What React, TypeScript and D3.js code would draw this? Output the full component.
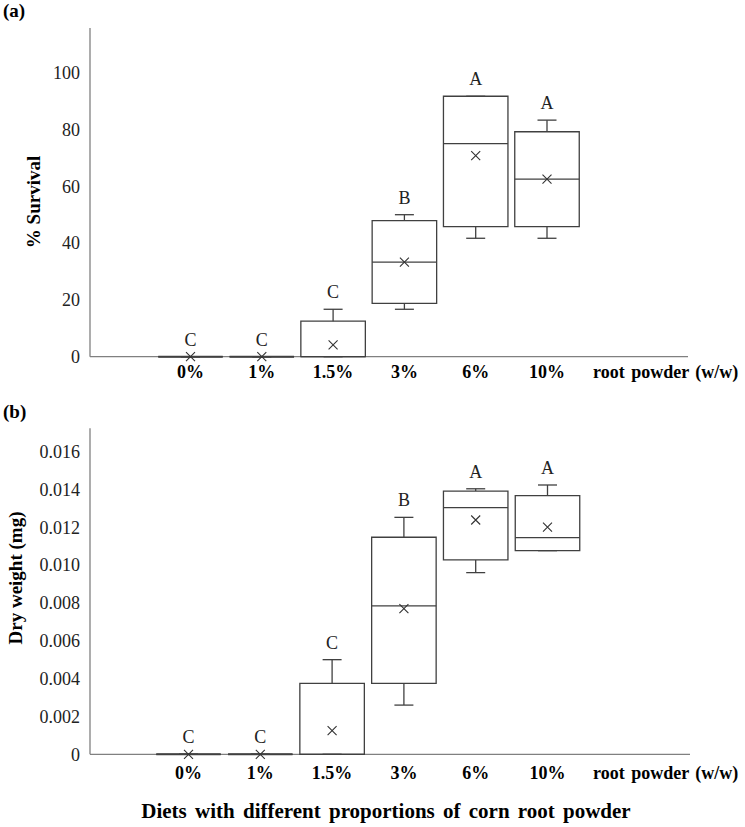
import React from "react";
import * as d3 from "d3";

const categories = ["0%", "1%", "1.5%", "3%", "6%", "10%"];

const survivalMin = [0, 0, 0, 16.7, 41.7, 41.7];
const survivalQ1 = [0, 0, 0, 18.8, 45.8, 45.8];
const survivalMedian = [0, 0, 0, 33.3, 75, 62.5];
const survivalQ3 = [0, 0, 12.5, 47.9, 91.7, 79.2];
const survivalMax = [0, 0, 16.7, 50, 91.7, 83.3];
const survivalMean = [0, 0, 4.2, 33.3, 70.8, 62.5];
const survivalLetters = ["C", "C", "C", "B", "A", "A"];
const survivalTicks = [0, 20, 40, 60, 80, 100];

const weightMin = [0, 0, 0, 0.0026, 0.0096, 0.01076];
const weightQ1 = [0, 0, 0, 0.00375, 0.01027, 0.01076];
const weightMedian = [0, 0, 0, 0.00784, 0.01303, 0.01145];
const weightQ3 = [0, 0, 0.00375, 0.01147, 0.01391, 0.01367];
const weightMax = [0, 0, 0.005, 0.01252, 0.01403, 0.01423];
const weightMean = [0, 0, 0.00125, 0.0077, 0.01238, 0.012];
const weightLetters = ["C", "C", "C", "B", "A", "A"];
const weightTicks = [0, 0.002, 0.004, 0.006, 0.008, 0.01, 0.012, 0.014, 0.016];

const FONT = "'Liberation Serif', 'Times New Roman', serif";
const BOX = "#404040";
const AXIS = "#808080";

type PanelProps = {
  label: string;
  yLabel: string;
  yLabelX: number;
  yLabelY: number;
  y: d3.ScaleLinear<number, number>;
  x: d3.ScalePoint<string>;
  ticks: number[];
  fmt: (v: number) => string;
  mins: number[];
  q1: number[];
  med: number[];
  q3: number[];
  maxs: number[];
  means: number[];
  letters: string[];
  axisTop: number;
  axisRight: number;
  labelTop: number;
  catBaseline: number;
};

function Panel(p: PanelProps) {
  const y0 = p.y(0);
  const bw = 64.5;
  const cap = 19;
  return (
    <g>
      <text x={3} y={p.labelTop} fontFamily={FONT} fontWeight="bold" fontSize={19}>
        {p.label}
      </text>
      <line x1={90} x2={90} y1={p.axisTop} y2={y0} stroke={AXIS} strokeWidth={1.3} />
      <line x1={90} x2={p.axisRight} y1={y0} y2={y0} stroke={AXIS} strokeWidth={1.3} />
      {p.ticks.map((t) => (
        <text key={t} x={80} y={p.y(t)} dy="0.35em" textAnchor="end" fontFamily={FONT} fontSize={18} fill="#222">
          {p.fmt(t)}
        </text>
      ))}
      <text
        transform={`translate(${p.yLabelX},${p.yLabelY}) rotate(-90)`}
        textAnchor="middle"
        dy="0.35em"
        fontFamily={FONT}
        fontWeight="bold"
        fontSize={19}
      >
        {p.yLabel}
      </text>
      {categories.map((c, i) => {
        const cx = p.x(c) as number;
        const l = cx - bw / 2;
        const r = cx + bw / 2;
        const yq1 = p.y(p.q1[i]);
        const yq3 = p.y(p.q3[i]);
        const ymin = p.y(p.mins[i]);
        const ymax = p.y(p.maxs[i]);
        const ymed = p.y(p.med[i]);
        const ymean = p.y(p.means[i]);
        const boxPath = `M${l},${yq3}L${r},${yq3}L${r},${yq1}L${l},${yq1}Z`;
        const m = 4.5;
        return (
          <g key={c}>
            <line x1={cx} x2={cx} y1={ymax} y2={yq3} stroke={BOX} strokeWidth={1.3} />
            <line x1={cx - cap / 2} x2={cx + cap / 2} y1={ymax} y2={ymax} stroke={BOX} strokeWidth={1.3} />
            <line x1={cx} x2={cx} y1={ymin} y2={yq1} stroke={BOX} strokeWidth={1.3} />
            <line x1={cx - cap / 2} x2={cx + cap / 2} y1={ymin} y2={ymin} stroke={BOX} strokeWidth={1.3} />
            <path d={boxPath} fill="none" stroke={BOX} strokeWidth={p.q3[i] === p.q1[i] ? 2 : 1.3} />
            <line x1={l} x2={r} y1={ymed} y2={ymed} stroke={BOX} strokeWidth={1.3} />
            <path
              d={`M${cx - m},${ymean - m}L${cx + m},${ymean + m}M${cx - m},${ymean + m}L${cx + m},${ymean - m}`}
              stroke="#333"
              strokeWidth={1.1}
            />
            <text x={cx} y={ymax - 11} textAnchor="middle" fontFamily={FONT} fontSize={18} fill="#222">
              {p.letters[i]}
            </text>
            <text x={cx} y={p.catBaseline} textAnchor="middle" fontFamily={FONT} fontWeight="bold" fontSize={18}>
              {c}
            </text>
          </g>
        );
      })}
      <text x={593} y={p.catBaseline} fontFamily={FONT} fontWeight="bold" fontSize={18} wordSpacing={2}>
        root powder (w/w)
      </text>
    </g>
  );
}

export default function App() {
  const xTop = d3.scalePoint<string>().domain(categories).range([190.5, 547]);
  const xBot = d3.scalePoint<string>().domain(categories).range([188.5, 547.5]);
  const yTop = d3.scaleLinear().domain([0, 100]).range([356.7, 72.7]);
  const yBot = d3.scaleLinear().domain([0, 0.016]).range([754.3, 451.5]);
  return (
    <svg
      width={745}
      height={827}
      style={{ position: "absolute", left: 0, top: 0, background: "#fff" }}
    >
      <rect width={745} height={827} fill="#fff" />
      <Panel
        label="(a)"
        yLabel="% Survival"
        yLabelX={33}
        yLabelY={202}
        y={yTop}
        x={xTop}
        ticks={survivalTicks}
        fmt={(v) => String(v)}
        mins={survivalMin}
        q1={survivalQ1}
        med={survivalMedian}
        q3={survivalQ3}
        maxs={survivalMax}
        means={survivalMean}
        letters={survivalLetters}
        axisTop={28}
        axisRight={688}
        labelTop={17}
        catBaseline={378}
      />
      <Panel
        label="(b)"
        yLabel="Dry weight (mg)"
        yLabelX={15}
        yLabelY={578}
        y={yBot}
        x={xBot}
        ticks={weightTicks}
        fmt={(v) => (v === 0 ? "0" : v.toFixed(3))}
        mins={weightMin}
        q1={weightQ1}
        med={weightMedian}
        q3={weightQ3}
        maxs={weightMax}
        means={weightMean}
        letters={weightLetters}
        axisTop={428.3}
        axisRight={690}
        labelTop={418}
        catBaseline={779}
      />
      <text x={386} y={818} textAnchor="middle" fontFamily={FONT} fontWeight="bold" fontSize={21} wordSpacing={3}>
        Diets with different proportions of corn root powder
      </text>
    </svg>
  );
}
